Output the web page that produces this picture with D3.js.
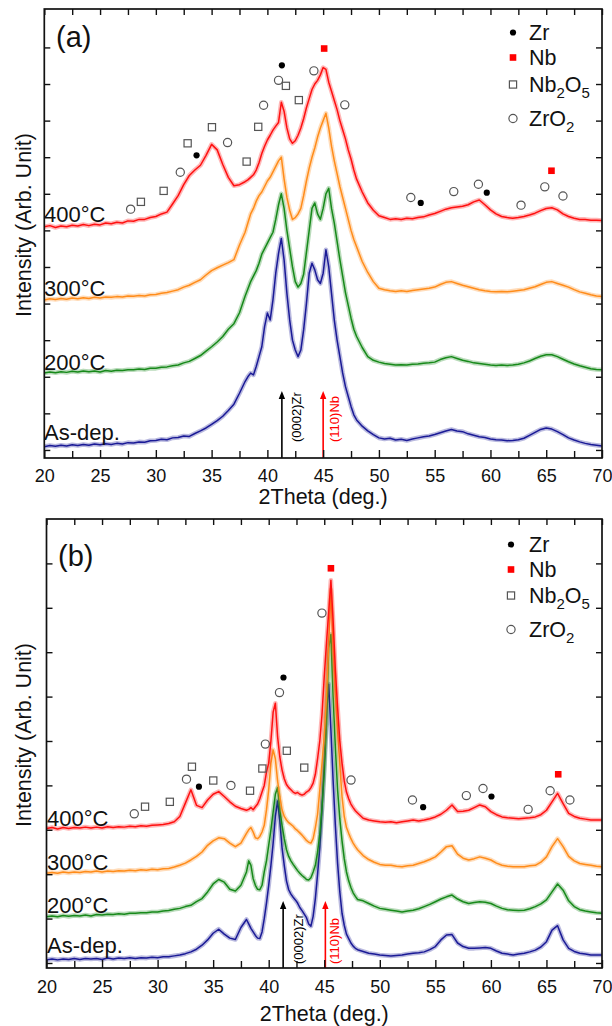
<!DOCTYPE html>
<html><head><meta charset="utf-8">
<script src="https://cdn.jsdelivr.net/npm/d3@7"></script>
<style>
body{margin:0;background:#fff;}
svg{display:block;}
text{font-family:"Liberation Sans",Arial,sans-serif;fill:#111;}
</style>
</head><body>
<svg id="chart" width="612" height="1026"></svg>
<script>
// ---------------- DATA ----------------
const xTickValues = [20,25,30,35,40,45,50,55,60,65,70];
const xMinorValues = [22.5,27.5,32.5,37.5,42.5,47.5,52.5,57.5,62.5,67.5];
const seriesNames = ["400°C","300°C","200°C","As-dep."];
const phaseNames = ["Zr","Nb","Nb2O5","ZrO2"];

// 2Theta sample positions, panel (a)
const gridA = [20,20.5,21,21.5,22,22.5,23,23.5,24,24.5,25,25.5,26,26.5,27,27.5,28,28.5,29,29.5,30,30.5,31,31.5,32,32.5,33,33.5,34,34.5,35,35.5,36,36.5,37,37.5,38,
38.25,38.5,38.75,39,39.25,39.5,39.75,40,40.25,40.5,40.75,41,41.25,41.5,41.75,42,42.25,42.5,42.75,43,43.25,43.5,43.75,44,44.25,44.5,44.75,45,45.25,45.5,45.75,46,46.25,46.5,46.75,47,47.25,47.5,47.75,48,
48.5,49,49.5,50,50.5,51,51.5,52,52.5,53,53.5,54,54.5,55,55.5,56,56.5,57,57.5,58,58.5,59,59.5,60,60.5,61,61.5,62,62.5,63,63.5,64,64.5,65,65.5,66,66.5,67,67.5,68,68.5,69,69.5,70];

const red400A = [6.10,6.13,6.08,6.12,6.10,6.14,6.12,6.16,6.13,6.17,6.15,6.20,6.18,6.22,6.20,6.26,6.25,6.30,6.30,6.35,6.38,6.45,6.50,6.72,6.95,7.25,7.50,7.65,7.78,8.05,8.35,8.20,7.80,7.45,7.22,7.25,7.33,
7.38,7.45,7.52,7.65,7.85,8.10,8.30,8.47,8.60,8.74,8.85,8.95,9.50,9.25,8.80,8.50,8.38,8.45,8.60,8.80,9.05,9.35,9.60,9.85,10.0,10.10,10.25,10.45,10.40,10.05,9.80,9.55,9.30,9.00,8.75,8.50,8.20,7.95,7.65,7.40,
7.05,6.75,6.55,6.40,6.35,6.30,6.32,6.30,6.33,6.32,6.35,6.37,6.42,6.46,6.52,6.58,6.62,6.64,6.66,6.70,6.78,6.83,6.70,6.56,6.45,6.38,6.35,6.33,6.35,6.38,6.42,6.47,6.54,6.60,6.62,6.56,6.45,6.38,6.33,6.30,6.30,6.28,6.28,6.27];
const orange300A = [4.10,4.13,4.11,4.14,4.12,4.15,4.13,4.16,4.14,4.17,4.15,4.18,4.17,4.19,4.18,4.21,4.20,4.22,4.21,4.24,4.25,4.28,4.30,4.34,4.38,4.45,4.50,4.58,4.65,4.78,4.90,4.98,5.05,5.12,5.20,5.60,5.95,
6.20,6.45,6.60,6.80,6.95,7.05,7.20,7.35,7.45,7.60,7.75,7.90,8.00,7.40,6.90,6.55,6.30,6.35,6.45,6.60,6.95,7.35,7.70,8.00,8.25,8.55,8.80,9.00,9.20,8.80,8.30,7.90,7.55,7.20,6.90,6.60,6.30,6.00,5.75,5.55,
5.15,4.85,4.60,4.42,4.38,4.35,4.33,4.35,4.33,4.36,4.38,4.40,4.42,4.45,4.52,4.58,4.60,4.55,4.50,4.46,4.42,4.38,4.35,4.33,4.32,4.33,4.32,4.34,4.36,4.38,4.42,4.46,4.52,4.58,4.60,4.55,4.50,4.45,4.38,4.32,4.28,4.24,4.21,4.19];
const green200A = [2.10,2.13,2.11,2.14,2.12,2.15,2.13,2.16,2.14,2.16,2.13,2.17,2.15,2.18,2.17,2.19,2.19,2.21,2.20,2.23,2.23,2.26,2.27,2.30,2.32,2.38,2.42,2.50,2.58,2.70,2.82,2.95,3.10,3.30,3.45,3.75,4.20,
4.40,4.60,4.75,4.90,5.10,5.35,5.50,5.65,5.80,5.95,6.30,6.70,7.00,6.60,6.00,5.50,5.00,4.60,4.45,4.55,4.80,5.40,6.00,6.60,6.75,6.45,6.30,6.60,7.00,7.15,6.60,6.20,5.70,5.20,4.75,4.30,3.95,3.60,3.30,3.10,
2.80,2.55,2.45,2.40,2.36,2.34,2.32,2.33,2.32,2.34,2.35,2.37,2.38,2.40,2.47,2.52,2.55,2.50,2.45,2.42,2.38,2.36,2.34,2.32,2.31,2.32,2.31,2.32,2.34,2.38,2.43,2.50,2.56,2.60,2.60,2.55,2.48,2.41,2.35,2.30,2.26,2.22,2.20,2.19];
const blueAsDepA = [0.09,0.12,0.10,0.13,0.11,0.14,0.12,0.15,0.13,0.16,0.14,0.17,0.15,0.18,0.16,0.20,0.19,0.22,0.21,0.25,0.26,0.29,0.28,0.33,0.34,0.38,0.37,0.45,0.52,0.60,0.70,0.80,0.92,1.08,1.25,1.55,1.87,
2.00,2.10,2.05,2.28,2.55,2.82,3.37,3.74,3.55,4.10,4.83,5.37,5.78,5.19,4.28,3.55,3.00,2.73,2.55,2.73,3.28,4.00,4.83,5.10,4.92,4.65,4.55,4.83,5.47,5.01,4.28,3.55,3.00,2.55,2.10,1.73,1.46,1.19,0.96,0.82,
0.65,0.52,0.42,0.33,0.30,0.32,0.27,0.29,0.26,0.30,0.33,0.36,0.38,0.42,0.47,0.52,0.56,0.52,0.50,0.44,0.40,0.36,0.34,0.30,0.28,0.27,0.25,0.26,0.28,0.32,0.40,0.48,0.56,0.60,0.57,0.50,0.42,0.33,0.27,0.22,0.18,0.15,0.13,0.11];

// 2Theta sample positions, panel (b)
const gridB = [20,20.5,21,21.5,22,22.5,23,23.5,24,24.5,25,25.5,26,26.5,27,27.5,28,28.5,29,29.5,30,30.5,31,31.5,32,32.5,33,33.5,34,34.5,35,35.5,36,36.5,37,37.5,38,
38.2,38.4,38.6,38.8,39,39.2,39.4,39.6,39.8,40,40.2,40.4,40.6,40.8,41,41.2,41.4,41.6,41.8,42,42.2,42.4,42.6,42.8,43,43.2,43.4,43.6,43.8,44,44.2,44.4,44.6,44.8,45,45.2,45.4,45.6,45.8,46,46.2,46.4,46.6,46.8,47,47.2,47.4,47.6,47.8,48,
48.5,49,49.5,50,50.5,51,51.5,52,52.5,53,53.5,54,54.5,55,55.5,56,56.5,57,57.5,58,58.5,59,59.5,60,60.5,61,61.5,62,62.5,63,63.5,64,64.5,65,65.5,66,66.5,67,67.5,68,68.5,69,69.5,70];

const red400B = [3.03,3.05,3.02,3.05,3.03,3.05,3.04,3.06,3.04,3.06,3.04,3.07,3.05,3.07,3.06,3.08,3.07,3.09,3.08,3.10,3.11,3.12,3.14,3.18,3.30,3.60,3.90,3.55,3.50,3.67,3.80,3.86,3.75,3.63,3.53,3.48,3.44,
3.46,3.50,3.45,3.52,3.58,3.70,3.85,4.00,4.30,4.50,5.00,5.65,5.85,5.10,4.64,4.35,4.15,4.02,3.95,3.90,3.85,3.82,3.84,3.80,3.78,3.80,3.85,3.88,3.95,4.05,4.25,4.60,5.00,5.60,6.45,7.20,7.90,8.62,7.70,6.60,5.75,5.00,4.50,4.10,3.85,3.70,3.58,3.50,3.43,3.38,
3.26,3.22,3.20,3.18,3.17,3.18,3.16,3.18,3.20,3.22,3.20,3.22,3.25,3.29,3.35,3.44,3.56,3.41,3.42,3.44,3.50,3.56,3.52,3.41,3.34,3.29,3.27,3.26,3.25,3.26,3.27,3.29,3.34,3.44,3.63,3.82,3.59,3.37,3.30,3.26,3.24,3.22,3.22,3.22];
const orange300B = [2.02,2.04,2.02,2.05,2.03,2.05,2.04,2.06,2.05,2.07,2.05,2.07,2.06,2.08,2.07,2.09,2.08,2.10,2.09,2.11,2.10,2.12,2.13,2.16,2.20,2.25,2.32,2.40,2.50,2.65,2.75,2.82,2.80,2.70,2.62,2.70,2.92,
3.00,3.05,2.95,2.82,2.80,2.85,2.95,3.10,3.45,3.90,4.50,4.80,4.60,4.10,3.75,3.45,3.30,3.22,3.16,3.12,3.08,3.02,2.98,2.93,2.88,2.82,2.76,2.72,2.70,2.80,3.05,3.35,3.90,4.50,5.10,6.00,7.20,8.40,7.10,6.10,5.25,4.45,3.75,3.30,3.05,2.92,2.80,2.70,2.62,2.55,
2.42,2.33,2.27,2.22,2.20,2.20,2.18,2.17,2.19,2.20,2.24,2.28,2.33,2.39,2.50,2.62,2.64,2.45,2.36,2.32,2.35,2.39,2.36,2.32,2.25,2.20,2.18,2.17,2.17,2.17,2.19,2.20,2.27,2.39,2.62,2.80,2.62,2.40,2.30,2.24,2.22,2.20,2.18,2.17];
const green200B = [1.04,1.06,1.04,1.07,1.05,1.07,1.06,1.08,1.06,1.09,1.08,1.10,1.09,1.11,1.10,1.12,1.12,1.13,1.13,1.15,1.15,1.17,1.18,1.21,1.23,1.27,1.30,1.38,1.45,1.60,1.78,1.88,1.82,1.66,1.62,1.75,2.05,
2.30,2.20,1.90,1.75,1.66,1.65,1.75,2.05,2.30,2.65,3.00,3.40,3.80,3.95,3.45,3.10,2.80,2.55,2.40,2.30,2.22,2.15,2.08,2.02,1.97,1.93,1.88,1.87,1.92,2.05,2.20,2.50,2.90,3.50,4.30,5.40,7.10,7.40,6.00,4.85,3.90,3.25,2.75,2.35,2.05,1.85,1.70,1.58,1.50,1.43,
1.40,1.34,1.28,1.23,1.21,1.19,1.17,1.15,1.17,1.19,1.22,1.27,1.32,1.38,1.44,1.49,1.53,1.44,1.38,1.34,1.36,1.38,1.37,1.34,1.28,1.23,1.20,1.19,1.18,1.19,1.22,1.27,1.33,1.42,1.60,1.78,1.64,1.40,1.27,1.20,1.17,1.15,1.13,1.12];
const blueAsDepB = [0.07,0.09,0.07,0.09,0.08,0.10,0.08,0.10,0.09,0.10,0.08,0.11,0.09,0.11,0.10,0.12,0.10,0.12,0.11,0.13,0.12,0.14,0.14,0.16,0.18,0.21,0.25,0.31,0.40,0.52,0.67,0.76,0.65,0.56,0.53,0.80,0.98,
0.88,0.78,0.70,0.62,0.56,0.55,0.70,1.00,1.35,1.75,2.20,2.70,3.30,3.65,3.20,2.60,2.20,1.85,1.65,1.55,1.48,1.42,1.35,1.25,1.18,1.10,1.02,0.88,0.83,1.05,1.45,2.00,2.60,3.50,4.50,5.60,6.28,5.25,4.10,3.10,2.25,1.60,1.12,0.85,0.65,0.55,0.45,0.38,0.33,0.30,
0.26,0.22,0.20,0.18,0.17,0.16,0.17,0.18,0.20,0.22,0.23,0.25,0.30,0.37,0.52,0.63,0.64,0.45,0.37,0.33,0.33,0.34,0.35,0.33,0.27,0.22,0.20,0.18,0.20,0.22,0.25,0.29,0.36,0.48,0.74,0.84,0.52,0.33,0.26,0.22,0.20,0.18,0.18,0.18];

// phase markers [2Theta, intensity]
const zrMarksA = [[33.65,8.05],[41.3,10.51],[53.75,6.75],[59.67,7.03]];
const nbMarksA = [[45.09,10.97],[65.47,7.63]];
const nb2o5MarksA = [[28.66,6.78],[30.7,7.08],[32.85,8.38],[35.03,8.82],[38.14,7.88],[39.18,8.83],[41.66,9.95],[42.82,9.56]];
const zro2MarksA = [[27.74,6.58],[32.19,7.59],[36.43,8.4],[39.66,9.42],[41.0,10.1],[44.17,10.36],[46.94,9.43],[52.86,6.9],[56.71,7.06],[58.92,7.26],[62.74,6.69],[64.87,7.19],[66.5,6.94]];

const zrMarksB = [[33.72,3.97],[41.33,6.43],[53.9,3.51],[60.05,3.75]];
const nbMarksB = [[45.6,8.89],[66.06,4.25]];
const nb2o5MarksB = [[28.87,3.52],[31.1,3.63],[33.09,4.42],[35.01,4.11],[38.32,3.88],[39.43,4.38],[41.63,4.78],[43.2,4.4]];
const zro2MarksB = [[27.9,3.36],[32.6,4.14],[36.6,4.0],[39.7,4.93],[40.97,6.09],[44.79,7.88],[47.41,4.12],[52.94,3.67],[57.79,3.77],[59.29,3.93],[63.35,3.46],[65.33,3.88],[67.11,3.67]];

// reference peak positions (2Theta)
const refLabels = ["(0002)Zr","(110)Nb"];
const refPosA = [41.3, 45.0];
const refPosB = [41.3, 45.1];

// ---------------- STYLE / LAYOUT ----------------
const lineColors = ["#ff1010","#ff8c1a","#17891a","#1a1a96"];
const refColors = ["#000","#ff0000"];
const svg = d3.select("#chart");

const panels = [
  {id:"a", label:"(a)", left:44.3, right:602, top:9, bottom:458, yDomain:[-0.22,12.05], yTicks:d3.range(0,12),
   grid:gridA, series:[red400A,orange300A,green200A,blueAsDepA],
   marks:[zrMarksA,nbMarksA,nb2o5MarksA,zro2MarksA], refPos:refPosA,
   seriesLabelY:[222,296,370,440], labelX:44, tickPad:11, xTitleY:504, yTitleCY:225,
   panelLabel:[56,47], legendSymX:513, legendTextX:529, legendY:[40,65,92,126], arrowTop:391, refTextBottom:442, refTextDx:[19.5,16]},
  {id:"b", label:"(b)", left:46.5, right:602, top:519, bottom:968, yDomain:[-0.113,10], yTicks:d3.range(0,10),
   grid:gridB, series:[red400B,orange300B,green200B,blueAsDepB],
   marks:[zrMarksB,nbMarksB,nb2o5MarksB,zro2MarksB], refPos:refPosB,
   seriesLabelY:[826,870,913,953], labelX:47, tickPad:12, xTitleY:1021, yTitleCY:735,
   panelLabel:[58,566], legendSymX:511, legendTextX:529, legendY:[552,577,603,637], arrowTop:901, refTextBottom:964, refTextDx:[19.5,13.5]}
];

function drawMarker(g, kind, cx, cy){
  if(kind===0){ g.append("circle").attr("cx",cx).attr("cy",cy).attr("r",3.1).attr("fill","#000"); }
  else if(kind===1){ g.append("rect").attr("x",cx-3.3).attr("y",cy-3.3).attr("width",6.6).attr("height",6.6).attr("fill","#ff0000"); }
  else if(kind===2){ g.append("rect").attr("x",cx-3.6).attr("y",cy-3.6).attr("width",7.2).attr("height",7.2).attr("fill","none").attr("stroke","#555").attr("stroke-width",1.2); }
  else { g.append("circle").attr("cx",cx).attr("cy",cy).attr("r",4.1).attr("fill","none").attr("stroke","#555").attr("stroke-width",1.2); }
}

panels.forEach(p=>{
  const g = svg.append("g");
  const x = d3.scaleLinear().domain([20,70]).range([p.left,p.right]);
  const y = d3.scaleLinear().domain(p.yDomain).range([p.bottom,p.top]);

  const clipId = "clip-"+p.id;
  svg.append("clipPath").attr("id",clipId).append("rect")
    .attr("x",p.left).attr("y",p.top).attr("width",p.right-p.left).attr("height",p.bottom-p.top);

  const line = d3.line().x((d,i)=>x(p.grid[i])).y(d=>y(d));
  const curves = g.append("g").attr("clip-path",`url(#${clipId})`);
  for(let k=p.series.length-1;k>=0;k--){
    curves.append("path").attr("d",line(p.series[k])).attr("fill","none")
      .attr("stroke",lineColors[k]).attr("stroke-width",4.6).attr("stroke-opacity",0.3).attr("stroke-linejoin","round");
    curves.append("path").attr("d",line(p.series[k])).attr("fill","none")
      .attr("stroke",lineColors[k]).attr("stroke-width",1.5).attr("stroke-linejoin","round");
  }

  // reference arrows
  p.refPos.forEach((pos,i)=>{
    const ax = x(pos);
    g.append("line").attr("x1",ax).attr("x2",ax).attr("y1",p.bottom).attr("y2",p.arrowTop+6)
      .attr("stroke",refColors[i]).attr("stroke-width",1.6);
    g.append("path").attr("d",`M${ax},${p.arrowTop} L${ax-3.2},${p.arrowTop+8} L${ax+3.2},${p.arrowTop+8} Z`).attr("fill",refColors[i]);
    g.append("text").attr("transform",`translate(${ax+p.refTextDx[i]},${p.refTextBottom}) rotate(-90)`)
      .attr("font-size",13).style("fill",refColors[i]).text(refLabels[i]);
  });

  // markers
  p.marks.forEach((arr,k)=>{
    arr.forEach(d=>drawMarker(g,k,x(d[0]),y(d[1])));
  });

  // axes
  const bottomAxis = d3.axisBottom(x).tickValues(xTickValues).tickSizeInner(-8).tickSizeOuter(0).tickPadding(p.tickPad).tickFormat(d3.format("d"));
  const ba = g.append("g").attr("transform",`translate(0,${p.bottom})`).call(bottomAxis);
  const bm = g.append("g").attr("transform",`translate(0,${p.bottom})`).call(d3.axisBottom(x).tickValues(xMinorValues).tickSizeInner(-7).tickSizeOuter(0).tickFormat(""));
  const ta = g.append("g").attr("transform",`translate(0,${p.top})`).call(d3.axisTop(x).tickValues(xTickValues.concat(xMinorValues)).tickSizeInner(-6).tickSizeOuter(0).tickFormat(""));
  const la = g.append("g").attr("transform",`translate(${p.left},0)`).call(d3.axisLeft(y).tickValues(p.yTicks).tickSizeInner(-6).tickSizeOuter(0).tickFormat(""));
  const ra = g.append("g").attr("transform",`translate(${p.right},0)`).call(d3.axisRight(y).tickValues(p.yTicks).tickSizeInner(-6).tickSizeOuter(0).tickFormat(""));
  [ba,bm,ta,la,ra].forEach(a=>{
    a.select(".domain").remove();
    a.selectAll(".tick line").attr("stroke","#111").attr("stroke-width",1.4);
  });
  ba.selectAll(".tick text").attr("font-size",18).attr("font-family","'Liberation Sans',Arial,sans-serif").style("fill","#111");

  // frame
  g.append("rect").attr("x",p.left).attr("y",p.top).attr("width",p.right-p.left).attr("height",p.bottom-p.top)
    .attr("fill","none").attr("stroke","#111").attr("stroke-width",1.7);

  // titles
  g.append("text").attr("x",(p.left+p.right)/2).attr("y",p.xTitleY).attr("text-anchor","middle")
    .attr("font-size",21.5).text("2Theta (deg.)");
  g.append("text").attr("transform",`translate(31,${p.yTitleCY}) rotate(-90)`).attr("text-anchor","middle")
    .attr("font-size",21.5).text("Intensity (Arb. Unit)");
  g.append("text").attr("x",p.panelLabel[0]).attr("y",p.panelLabel[1]).attr("font-size",29).text(p.label);

  // series labels
  seriesNames.forEach((s,i)=>{
    g.append("text").attr("x",p.labelX).attr("y",p.seriesLabelY[i]).attr("font-size",22).text(s);
  });

  // legend
  phaseNames.forEach((nm,k)=>{
    const ty = p.legendY[k];
    drawMarker(g,k,p.legendSymX,ty-7.5);
    const t = g.append("text").attr("x",p.legendTextX).attr("y",ty).attr("font-size",21.5);
    if(nm==="Nb2O5"){
      t.append("tspan").text("Nb");
      t.append("tspan").attr("font-size",15).attr("dy",6).text("2");
      t.append("tspan").attr("dy",-6).text("O");
      t.append("tspan").attr("font-size",15).attr("dy",6).text("5");
    } else if(nm==="ZrO2"){
      t.append("tspan").text("ZrO");
      t.append("tspan").attr("font-size",15).attr("dy",6).text("2");
    } else {
      t.text(nm);
    }
  });
});
</script>
</body></html>
